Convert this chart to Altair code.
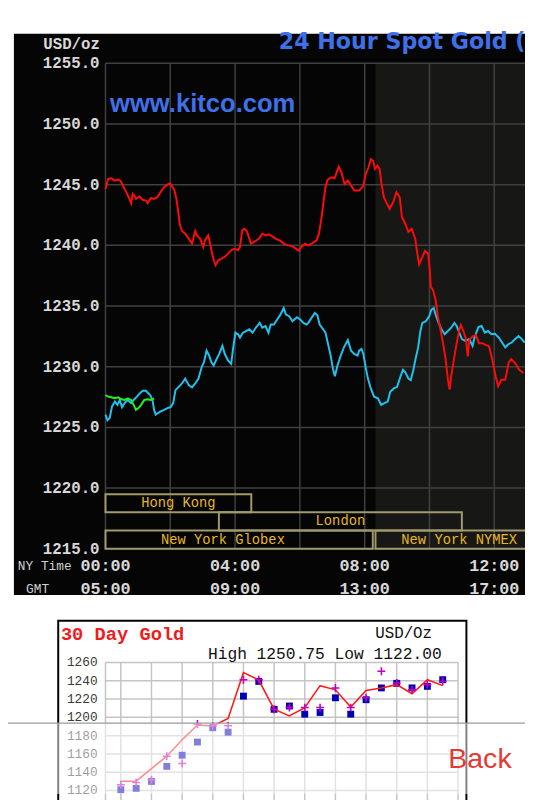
import altair as alt
import pandas as pd

# ---------------- 24 Hour Spot Gold (hours after 00:00 NY time, USD/oz) ----------------
RED_HOURS = [0.00, 0.08, 0.18, 0.28, 0.39, 0.47, 0.54, 0.64, 0.74, 0.79, 0.84, 0.89, 0.94, 1.05, 1.15,
             1.25, 1.30, 1.40, 1.50, 1.60, 1.70, 1.81, 1.91, 1.99, 2.06, 2.13, 2.19, 2.24, 2.29, 2.36,
             2.46, 2.57, 2.67, 2.77, 2.82, 2.92, 3.02, 3.07, 3.17, 3.22, 3.27, 3.34, 3.40, 3.48, 3.58,
             3.68, 3.78, 3.88, 3.98, 4.09, 4.15, 4.22, 4.29, 4.36, 4.44, 4.49, 4.59, 4.74, 4.84, 4.95,
             5.05, 5.15, 5.25, 5.40, 5.50, 5.65, 5.81, 5.91, 5.98, 6.04, 6.16, 6.26, 6.36, 6.52, 6.59,
             6.67, 6.72, 6.79, 6.85, 6.97, 7.07, 7.12, 7.20, 7.28, 7.38, 7.48, 7.58, 7.68, 7.83, 7.96,
             8.03, 8.12, 8.19, 8.26, 8.32, 8.39, 8.46, 8.52, 8.59, 8.69, 8.77, 8.88, 8.98, 9.08, 9.15,
             9.25, 9.35, 9.45, 9.56, 9.61, 9.68, 9.76, 9.86, 9.96, 10.01, 10.04, 10.11, 10.19, 10.26,
             10.33, 10.42, 10.50, 10.57, 10.62, 10.67, 10.77, 10.84, 10.92, 10.97, 11.05, 11.12, 11.18,
             11.23, 11.33, 11.43, 11.53, 11.63, 11.73, 11.84, 11.94, 12.04, 12.12, 12.22, 12.34, 12.44,
             12.52, 12.64, 12.77, 12.90]
RED_PRICES = [1244.65, 1245.47, 1245.52, 1245.33, 1245.41, 1245.28, 1244.92, 1244.38, 1243.83, 1243.47,
              1244.24, 1244.10, 1243.83, 1244.02, 1243.75, 1243.69, 1243.47, 1243.91, 1243.83, 1243.97,
              1244.38, 1244.79, 1245.00, 1245.11, 1244.84, 1244.51, 1243.83, 1242.87, 1241.78, 1241.18,
              1240.96, 1240.55, 1240.14, 1241.18, 1240.82, 1240.55, 1239.87, 1240.41, 1240.82, 1240.28,
              1239.59, 1238.77, 1238.36, 1238.77, 1238.91, 1239.05, 1239.32, 1239.59, 1239.73, 1239.59,
              1239.87, 1241.23, 1241.37, 1241.18, 1240.55, 1240.14, 1240.28, 1240.55, 1240.96, 1240.82,
              1240.90, 1240.74, 1240.55, 1240.36, 1240.14, 1240.00, 1239.87, 1239.65, 1239.54, 1239.87,
              1240.14, 1240.00, 1240.14, 1240.41, 1240.96, 1242.33, 1243.42, 1244.79, 1245.39, 1245.61,
              1245.52, 1245.88, 1246.48, 1246.02, 1245.06, 1245.33, 1244.92, 1244.51, 1244.51, 1244.92,
              1245.88, 1246.43, 1247.11, 1246.97, 1246.29, 1246.56, 1246.29, 1245.06, 1243.97, 1243.42,
              1243.01, 1243.56, 1244.38, 1243.97, 1242.33, 1241.78, 1241.10, 1241.37, 1240.55, 1239.59,
              1238.44, 1238.91, 1239.54, 1239.32, 1237.95, 1236.59, 1236.31, 1235.49, 1234.13, 1233.17,
              1231.94, 1230.57, 1228.93, 1228.11, 1229.21, 1230.85, 1231.94, 1233.03, 1233.44, 1232.90,
              1232.35, 1230.85, 1232.21, 1232.49, 1232.62, 1231.94, 1231.94, 1231.80, 1231.67, 1230.57,
              1229.21, 1228.39, 1228.93, 1228.93, 1230.30, 1230.63, 1230.30, 1229.75, 1229.48]

CYAN_HOURS = [0.00, 0.06, 0.13, 0.20, 0.29, 0.37, 0.44, 0.51, 0.59, 0.69, 0.79, 0.87, 0.97, 1.08, 1.15,
              1.25, 1.32, 1.38, 1.45, 1.50, 1.55, 1.62, 1.70, 1.81, 1.91, 2.01, 2.09, 2.16, 2.26, 2.36,
              2.46, 2.57, 2.67, 2.77, 2.87, 2.97, 3.04, 3.12, 3.20, 3.27, 3.34, 3.43, 3.51, 3.61, 3.68,
              3.78, 3.88, 3.93, 4.01, 4.09, 4.15, 4.24, 4.34, 4.44, 4.54, 4.64, 4.76, 4.84, 4.94, 5.03,
              5.10, 5.20, 5.30, 5.40, 5.50, 5.57, 5.67, 5.77, 5.91, 6.01, 6.11, 6.21, 6.26, 6.36, 6.46,
              6.54, 6.61, 6.72, 6.79, 6.87, 6.95, 7.02, 7.08, 7.16, 7.26, 7.36, 7.48, 7.58, 7.68, 7.78,
              7.83, 7.90, 7.96, 8.03, 8.10, 8.19, 8.29, 8.41, 8.51, 8.61, 8.71, 8.79, 8.90, 9.00, 9.10,
              9.18, 9.25, 9.35, 9.42, 9.50, 9.57, 9.65, 9.72, 9.78, 9.89, 9.99, 10.06, 10.13, 10.19,
              10.26, 10.37, 10.47, 10.57, 10.67, 10.77, 10.84, 10.92, 11.00, 11.11, 11.23, 11.33, 11.39,
              11.51, 11.61, 11.71, 11.81, 11.91, 12.02, 12.14, 12.24, 12.34, 12.44, 12.54, 12.64, 12.75,
              12.85, 12.94]
CYAN_PRICES = [1226.05, 1225.59, 1225.78, 1226.72, 1227.13, 1226.86, 1227.26, 1226.67, 1227.00, 1227.26,
               1227.00, 1227.26, 1227.53, 1227.86, 1228.02, 1228.02, 1227.81, 1227.67, 1227.26, 1226.45,
               1226.05, 1226.18, 1226.32, 1226.45, 1226.59, 1226.67, 1227.00, 1228.07, 1228.34, 1228.62,
               1229.02, 1228.48, 1228.29, 1228.62, 1229.02, 1229.97, 1230.37, 1231.32, 1230.91, 1230.37,
               1230.10, 1230.64, 1231.05, 1231.72, 1231.05, 1230.51, 1230.24, 1231.32, 1232.80, 1232.67,
               1232.40, 1232.80, 1232.94, 1233.08, 1232.80, 1233.21, 1233.61, 1233.21, 1233.35, 1232.80,
               1233.48, 1233.48, 1233.89, 1234.29, 1234.83, 1234.29, 1234.16, 1233.75, 1234.08, 1233.89,
               1233.61, 1233.48, 1233.61, 1234.02, 1234.43, 1234.24, 1233.48, 1233.08, 1232.80, 1231.86,
               1230.91, 1229.83, 1229.21, 1230.10, 1230.91, 1231.59, 1232.19, 1231.32, 1231.05, 1230.91,
               1231.32, 1231.46, 1231.05, 1229.97, 1229.02, 1228.21, 1227.53, 1227.40, 1226.86, 1227.00,
               1227.13, 1227.94, 1228.21, 1228.34, 1229.15, 1229.75, 1229.56, 1229.02, 1228.89, 1229.69,
               1230.64, 1231.59, 1232.94, 1233.61, 1233.75, 1234.16, 1234.70, 1234.83, 1234.29, 1233.75,
               1233.08, 1232.67, 1232.94, 1233.21, 1233.61, 1233.35, 1232.80, 1232.27, 1232.13, 1232.27,
               1231.72, 1232.40, 1233.26, 1233.35, 1232.80, 1232.94, 1232.67, 1232.72, 1232.40, 1231.99,
               1231.59, 1231.86, 1231.99, 1232.27, 1232.53, 1232.27, 1231.99]

GREEN_HOURS = [0.00, 0.08, 0.18, 0.28, 0.39, 0.49, 0.59, 0.69, 0.79, 0.87, 0.94, 1.02, 1.10, 1.20, 1.30,
               1.40, 1.50]
GREEN_PRICES = [1227.67, 1227.53, 1227.48, 1227.40, 1227.48, 1227.32, 1227.26, 1227.40, 1227.26, 1226.86,
                1226.45, 1226.59, 1226.86, 1227.26, 1227.32, 1227.26, 1227.40]

SESSION_NAMES = ["Hong Kong", "London", "New York Globex", "New York NYMEX"]
SESSION_START = [0.0, 3.5, -1.0, 8.3333]
SESSION_END = [4.5, 11.0, 8.25, 13.5]
SESSION_LOW = [1218.0, 1216.5, 1215.0, 1215.0]
SESSION_HIGH = [1219.5, 1218.0, 1216.5, 1216.5]
NYMEX_OPEN = 8.3333

TOP_Y_TICKS = [1215, 1220, 1225, 1230, 1235, 1240, 1245, 1250, 1255]
TOP_X_GRID = [0, 2, 4, 6, 8, 10, 12]
TOP_X_TICKS = [0, 4, 8, 12]
NY_LABELS = ["00:00", "04:00", "08:00", "12:00"]
GMT_LABELS = ["05:00", "09:00", "13:00", "17:00"]
TOP_HOURS_SHOWN = [0, 13.5]
TOP_PRICE_RANGE = [1215, 1255]

# ---------------- 30 Day Gold ----------------
DAY_INDEX = list(range(22))
D30_LINE = [1130.2, 1130.2, 1143.9, 1157.5, 1175.5, 1191.6, 1190.5, 1198.8, 1249.0, 1240.8, 1208.9,
            1201.6, 1210.7, 1234.7, 1230.1, 1211.3, 1229.3, 1232.2, 1235.8, 1225.8, 1241.2, 1234.7]
D30_SQUARES = [1120.9, 1122.4, 1129.9, 1146.4, 1158.6, 1173.0, 1188.7, 1183.8, 1223.2, 1239.3, 1208.8,
               1212.4, 1203.5, 1205.3, 1221.4, 1203.5, 1219.3, 1232.2, 1237.2, 1232.2, 1233.9, 1241.2]
D30_PLUSES = [1126.3, 1128.8, 1131.6, 1157.5, 1149.6, 1192.7, 1190.5, 1190.9, 1241.2, 1241.2, 1208.8,
              1210.7, 1210.7, 1210.7, 1232.2, 1210.7, 1221.4, 1250.5, 1237.6, 1230.1, 1235.8, 1239.3]
D30_Y_TICKS = [1120, 1140, 1160, 1180, 1200, 1220, 1240, 1260]
D30_X_GRID = [-1, 0, 2, 4, 6, 8, 10, 12, 14, 16, 18, 20, 22]
D30_DAYS_SHOWN = [-1, 22]
D30_PRICE_RANGE = [1107.6, 1260]
HIGH_30 = 1250.75
LOW_30 = 1122.00

# ---------------- layout (origin = left edge of both plot areas) ----------------
PAD_LEFT = 99
W, H = 426, 543
PAD_BOTTOM = 249
MONO = "Liberation Mono"

top_x = alt.Scale(domain=TOP_HOURS_SHOWN, range=[0, 444.15], nice=False, zero=False, clamp=True)
top_y = alt.Scale(domain=TOP_PRICE_RANGE, range=[543, 50], nice=False, zero=False)
bot_x = alt.Scale(domain=D30_DAYS_SHOWN, range=[0, 358], nice=False, zero=False)
bot_y = alt.Scale(domain=D30_PRICE_RANGE, range=[800, 658.5], nice=False, zero=False)


def TX(f):
    return alt.X(f, type="quantitative", scale=top_x, axis=None)


def TY(f):
    return alt.Y(f, type="quantitative", scale=top_y, axis=None)


def BX(f):
    return alt.X(f, type="quantitative", scale=bot_x, axis=None)


def BY(f):
    return alt.Y(f, type="quantitative", scale=bot_y, axis=None)


def txt(text, x, y, align="left", baseline="alphabetic", **style):
    return alt.Chart(pd.DataFrame({"t": [text]})).mark_text(
        align=align, baseline=baseline, **style
    ).encode(x=alt.value(x), y=alt.value(y), text="t:N")


# ---- top panel ----
bg_top = alt.Chart(pd.DataFrame({"a": [0]})).mark_rect(color="#050505").encode(
    x=alt.value(-93), x2=alt.value(W), y=alt.value(20), y2=alt.value(590))

shade = alt.Chart(pd.DataFrame({"x0": [NYMEX_OPEN], "x1": [TOP_HOURS_SHOWN[1]],
                                "y0": [TOP_PRICE_RANGE[0]], "y1": [TOP_PRICE_RANGE[1]]})
                  ).mark_rect(color="#171715").encode(x=TX("x0"), x2="x1", y=TY("y0"), y2="y1")

hgrid = alt.Chart(pd.DataFrame({"v": TOP_Y_TICKS, "x0": TOP_HOURS_SHOWN[0], "x1": TOP_HOURS_SHOWN[1]})
                  ).mark_rule(color="#404040", strokeWidth=1.5).encode(x=TX("x0"), x2="x1", y=TY("v"))
vgrid = alt.Chart(pd.DataFrame({"h": TOP_X_GRID, "y0": TOP_PRICE_RANGE[0], "y1": TOP_PRICE_RANGE[1]})
                  ).mark_rule(color="#404040", strokeWidth=1.5).encode(x=TX("h"), y=TY("y0"), y2="y1")

# tick labels of the price axis and the two time rows (NY time, GMT)
ylab = pd.DataFrame({"v": TOP_Y_TICKS, "lab": [f"{v:.1f}" for v in TOP_Y_TICKS]})
ylabels = alt.Chart(ylab).mark_text(align="right", baseline="middle", font=MONO, fontSize=16,
                                    fontWeight="bold", color="#d8d8d8").encode(
    x=alt.value(-6), y=TY("v"), text="lab:N")
tlab = pd.DataFrame({"h": TOP_X_TICKS, "ny": NY_LABELS, "gmt": GMT_LABELS})
nylabels = alt.Chart(tlab).mark_text(align="center", baseline="middle", font=MONO, fontSize=17,
                                     fontWeight="bold", color="#d8d8d8").encode(
    x=TX("h"), y=alt.value(560.5), text="ny:N")
gmtlabels = alt.Chart(tlab).mark_text(align="center", baseline="middle", font=MONO, fontSize=17,
                                      fontWeight="bold", color="#d8d8d8").encode(
    x=TX("h"), y=alt.value(583.5), text="gmt:N")

sess = pd.DataFrame({"name": SESSION_NAMES, "s": SESSION_START, "e": SESSION_END,
                     "lo": SESSION_LOW, "hi": SESSION_HIGH})
sess["mid"] = (sess["s"] + sess["e"]) / 2
sess["ymid"] = (sess["lo"] + sess["hi"]) / 2

sess_box = alt.Chart(sess).mark_rect(filled=False, color="#a09a6c", strokeWidth=2).encode(
    x=TX("s"), x2="e", y=TY("lo"), y2="hi")
sess_txt = alt.Chart(sess).mark_text(font=MONO, fontSize=14, color="#e8b820", baseline="middle").encode(
    x=TX("mid"), y=TY("ymid"), text="name:N")


def series(hours, prices, color):
    return alt.Chart(pd.DataFrame({"h": hours, "p": prices})).mark_line(
        color=color, strokeWidth=2).encode(x=TX("h"), y=TY("p"))


top_panel = alt.layer(shade, hgrid, vgrid, sess_box, sess_txt,
                      series(CYAN_HOURS, CYAN_PRICES, "#1ec3ef"),
                      series(GREEN_HOURS, GREEN_PRICES, "#22f022"),
                      series(RED_HOURS, RED_PRICES, "#ff0a0a"),
                      ylabels, nylabels, gmtlabels)

top_texts = [
    txt("24 Hour Spot Gold (Bid)", 176, 36, font="DejaVu Sans", fontSize=22.5, fontWeight="bold",
        color="#4070e8"),
    txt("www.kitco.com", 4.6, 99.8, font="Liberation Sans", fontSize=26, fontWeight="bold",
        color="#4070e8"),
    txt("USD/oz", -5.6, 36, align="right", font=MONO, fontSize=16, fontWeight="bold", color="#d8d8d8"),
    txt("NY Time", -89, 560.5, baseline="middle", font=MONO, fontSize=13, color="#d0d0d0"),
    txt("GMT", -69, 583.5, align="center", baseline="middle", font=MONO, fontSize=13, color="#d0d0d0"),
]

# ---- bottom panel ----
bot_box = alt.Chart(pd.DataFrame({"a": [0]})).mark_rect(filled=False, color="black", strokeWidth=2).encode(
    x=alt.value(-48), x2=alt.value(366.5), y=alt.value(616), y2=alt.value(830))

hgrid30 = alt.Chart(pd.DataFrame({"v": D30_Y_TICKS, "x0": D30_DAYS_SHOWN[0], "x1": D30_DAYS_SHOWN[1]})
                    ).mark_rule(color="#c4c4c4", strokeWidth=1.5).encode(x=BX("x0"), x2="x1", y=BY("v"))
vgrid30 = alt.Chart(pd.DataFrame({"d": D30_X_GRID, "y0": D30_PRICE_RANGE[0], "y1": D30_PRICE_RANGE[1]})
                    ).mark_rule(color="#c4c4c4", strokeWidth=1.5).encode(x=BX("d"), y=BY("y0"), y2="y1")
ylabels30 = alt.Chart(pd.DataFrame({"v": D30_Y_TICKS, "lab": [str(v) for v in D30_Y_TICKS]})).mark_text(
    align="right", baseline="middle", font=MONO, fontSize=13, color="#3a3a3a").encode(
    x=alt.value(-8), y=BY("v"), text="lab:N")

d30 = pd.DataFrame({"d": DAY_INDEX, "line": D30_LINE, "sq": D30_SQUARES, "plus": D30_PLUSES})
squares = alt.Chart(d30).mark_square(color="#0000b4", size=49, opacity=1).encode(x=BX("d"), y=BY("sq"))
line30 = alt.Chart(d30).mark_line(color="#ff1a1a", strokeWidth=1.6).encode(x=BX("d"), y=BY("line"))
pluses = alt.Chart(d30).mark_point(shape="M-1,0H1M0,-1V1", filled=False, color="#c000c0", size=64,
                                   strokeWidth=1.6, opacity=1).encode(x=BX("d"), y=BY("plus"))

bot_panel = alt.layer(hgrid30, vgrid30, ylabels30, squares, line30, pluses)

bot_texts = [
    txt("30 Day Gold", -45.3, 635.3, font=MONO, fontSize=19, fontWeight="bold", color="#ee1c1c"),
    txt("USD/Oz", 274, 634, font=MONO, fontSize=16, color="#111111"),
    txt(f"High {HIGH_30:.2f} Low {LOW_30:.2f}", 104, 655.3, font=MONO, fontSize=16.5, color="#111111"),
]

# ---- "Back" overlay ----
overlay = alt.Chart(pd.DataFrame({"a": [0]})).mark_rect(color="white", opacity=0.5).encode(
    x=alt.value(-PAD_LEFT), x2=alt.value(W), y=alt.value(720), y2=alt.value(H + PAD_BOTTOM))
overlay_line = alt.Chart(pd.DataFrame({"a": [0]})).mark_rule(color="#9a9a9a", strokeWidth=1.2).encode(
    x=alt.value(-PAD_LEFT), x2=alt.value(W), y=alt.value(720))
back = txt("Back", 348, 765.3, font="Liberation Sans", fontSize=29, color="#e53935")

chart = alt.layer(
    bg_top, top_panel, *top_texts, bot_box, bot_panel, *bot_texts, overlay, overlay_line, back
).resolve_scale(x="independent", y="independent").properties(
    width=W, height=H, background="white",
    padding={"left": PAD_LEFT, "top": 0, "right": 0, "bottom": PAD_BOTTOM},
    autosize=alt.AutoSizeParams(type="none"),
).configure_view(strokeWidth=0)

chart.save("out.html", embed_options={"renderer": "svg", "actions": False})
